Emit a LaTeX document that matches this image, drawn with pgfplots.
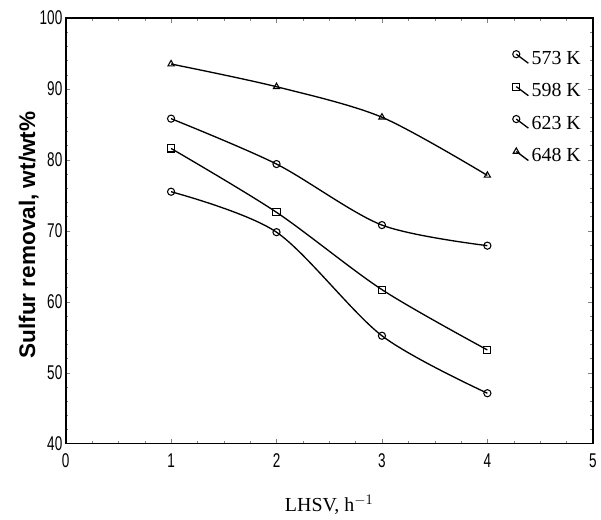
\documentclass[border=0pt]{standalone}
\usepackage{pgfplots}
\pgfplotsset{compat=1.18}
\usepackage{fontspec}
\setmainfont{Liberation Serif}
\newfontfamily\narrowfont[FakeStretch=0.68]{Liberation Sans}
\newfontfamily\arialfont{Liberation Sans}
\begin{document}
\begin{tikzpicture}
\begin{axis}[
  name=ax,
  width=397.5pt, height=321pt, scale only axis,
  xmin=0, xmax=5, ymin=40, ymax=100,
  xtick={0,1,2,3,4,5}, ytick={40,50,...,100},
  minor x tick num=3, minor y tick num=4,
  tick align=inside, tick pos=both,
  major tick length=3.5pt, minor tick length=2pt,
  /pgf/number format/assume math mode=true,
  tick label style={font=\narrowfont\fontsize{15}{15}\selectfont},
  yticklabel style={xshift=1pt},
  xticklabel style={yshift=-4pt},
  xlabel={\fontsize{15}{15}\selectfont LHSV, h$^{-1}$},
  xlabel style={at={(axis description cs:0.5,0)}, anchor=center, yshift=-46pt},
  ylabel={\arialfont\bfseries\fontsize{17}{17}\selectfont Sulfur removal, wt/wt\%},
  ylabel style={at={(axis description cs:-0.07,0.49)}, anchor=center},
  axis line style={line width=1.3pt},
  legend style={draw=none, fill=none, at={(0.84,0.935)}, anchor=north west, font=\fontsize{15}{15}\selectfont, row sep=9pt},
  legend cell align=left,
  legend image code/.code={\draw[mark repeat=2,mark phase=1,#1] plot coordinates {(0cm,0.12cm)(0.32cm,-0.12cm)};},
  every axis plot/.append style={black, line width=1pt, smooth, mark options={solid, fill=white, line width=0.8pt}, mark size=2.7pt},
]
\addplot[mark=o] coordinates {(1,75.5) (2,69.8) (3,55.2) (4,47.1)};
\addlegendentry{573 K}
\addplot[mark=square] coordinates {(1,81.6) (2,72.6) (3,61.7) (4,53.2)};
\addlegendentry{598 K}
\addplot[mark=o] coordinates {(1,85.8) (2,79.4) (3,70.8) (4,67.9)};
\addlegendentry{623 K}
\addplot[mark=triangle] coordinates {(1,93.5) (2,90.3) (3,86.0) (4,77.8)};
\addlegendentry{648 K}
\end{axis}
\path ([xshift=-49.5pt,yshift=-57pt]ax.south west) rectangle ([xshift=3.75pt,yshift=13.5pt]ax.north east);
\end{tikzpicture}
\end{document}
